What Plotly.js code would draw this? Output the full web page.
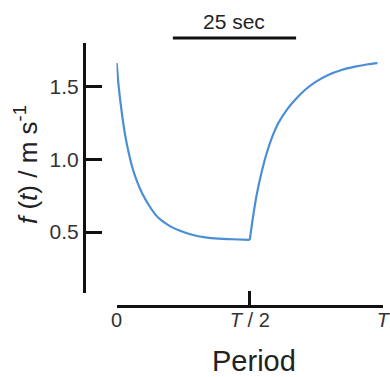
<!DOCTYPE html>
<html>
<head>
<meta charset="utf-8">
<script src="https://cdn.plot.ly/plotly-3.0.1.min.js"></script>
<style>html,body{margin:0;padding:0;background:#fff;}#chart{width:390px;height:377px;}</style>
</head>
<body>
<div id="chart"></div>
<script>
// Period length in seconds (scale bar of 25 sec spans ~0.46 T)
const periodSeconds = 54;
// Decay phase (0 .. T/2)
const decayTime  = [0, 0.45, 1.11, 1.78, 2.47, 3.14, 4.15, 5.17, 6.52, 7.86, 9.22, 10.9, 12.6, 15.3, 18.0, 20.7, 23.4, 27];
const decayValue = [1.665, 1.491, 1.307, 1.157, 1.043, 0.950, 0.847, 0.767, 0.686, 0.620, 0.576, 0.539, 0.512, 0.481, 0.463, 0.454, 0.450, 0.445];
// Rise phase (T/2 .. T)
const riseTime  = [27, 27.72, 28.40, 29.42, 30.43, 31.44, 32.78, 34.48, 36.16, 38.19, 40.21, 42.91, 45.63, 48.32, 51.0, 52.9];
const riseValue = [0.445, 0.617, 0.755, 0.916, 1.043, 1.146, 1.250, 1.341, 1.410, 1.479, 1.532, 1.583, 1.617, 1.640, 1.657, 1.665];
// Ticks
const xTickVals = [0, 27, 54];
const xTickText = ['0', '<i>T</i> / 2', '<i>T</i>'];
const yTickVals = [0.5, 1.0, 1.5];
const yTickText = ['0.5', '1.0', '1.5'];
// Scale bar
const scaleBarStart = 11.4;
const scaleBarSeconds = 25;
const scaleBarLabel = '25 sec';

const W = 390, H = 377;
const lineColor = '#4a8fd6';
const font = 'Liberation Sans, Arial, sans-serif';

const traces = [
  {x: decayTime, y: decayValue, type: 'scatter', mode: 'lines',
   line: {color: lineColor, width: 2.2, shape: 'spline', smoothing: 0.8}, hoverinfo: 'skip', showlegend: false},
  {x: riseTime, y: riseValue, type: 'scatter', mode: 'lines',
   line: {color: lineColor, width: 2.2, shape: 'spline', smoothing: 0.8}, hoverinfo: 'skip', showlegend: false}
];

const layout = {
  width: W, height: H,
  margin: {l: 0, r: 0, t: 0, b: 0},
  paper_bgcolor: '#fff', plot_bgcolor: 'rgba(0,0,0,0)',
  font: {family: font, size: 20, color: '#333'},
  showlegend: false,
  xaxis: {
    domain: [116.5 / W, 383 / W], range: [-0.03, periodSeconds + 0.03],
    anchor: 'free', position: 1 - 306 / H,
    showline: true, linecolor: '#111', linewidth: 3,
    ticks: 'inside', ticklen: 14, tickwidth: 3, tickcolor: '#111',
    tickvals: xTickVals, ticktext: xTickText, ticklabeloverflow: 'allow',
    ticklabelstandoff: -5,
    tickfont: {family: font, size: 20, color: '#333'},
    showgrid: false, zeroline: false, automargin: false, fixedrange: true
  },
  yaxis: {
    domain: [1 - 293 / H, 1 - 43 / H], range: [0.0793, 1.8034],
    anchor: 'free', position: 84 / W,
    showline: true, linecolor: '#111', linewidth: 3,
    ticks: 'inside', ticklen: 16, tickwidth: 3, tickcolor: '#111',
    tickvals: yTickVals, ticktext: yTickText,
    tickfont: {family: font, size: 21, color: '#333'},
    showgrid: false, zeroline: false, automargin: false, fixedrange: true
  },
  shapes: [
    {type: 'line', xref: 'x', yref: 'paper',
     x0: scaleBarStart, x1: scaleBarStart + scaleBarSeconds,
     y0: 1 - 38 / H, y1: 1 - 38 / H,
     line: {color: '#111', width: 3}}
  ],
  annotations: [
    {text: scaleBarLabel, xref: 'x', yref: 'paper',
     x: scaleBarStart + scaleBarSeconds / 2, y: 1 - 22 / H,
     xanchor: 'center', yanchor: 'middle', showarrow: false,
     font: {family: font, size: 21, color: '#222'}},
    {text: 'Period', xref: 'paper', yref: 'paper',
     x: 254 / W, y: 1 - 361 / H, xanchor: 'center', yanchor: 'middle', showarrow: false,
     font: {family: font, size: 29, color: '#222'}},
    {text: '<i>f</i> (<i>t</i>) / m s<sup>-1</sup>', xref: 'paper', yref: 'paper',
     x: 26 / W, y: 1 - 165 / H, xanchor: 'center', yanchor: 'middle', showarrow: false,
     textangle: -90,
     font: {family: font, size: 26, color: '#222'}}
  ]
};

Plotly.newPlot('chart', traces, layout, {displayModeBar: false, staticPlot: true});
</script>
</body>
</html>
